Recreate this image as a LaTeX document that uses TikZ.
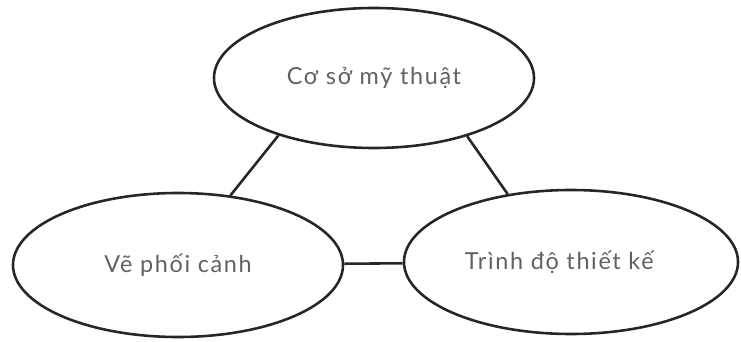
\documentclass[tikz,border=0pt]{standalone}
\usepackage{fontspec}
\setmainfont{Lato}[LetterSpace=7]
\usetikzlibrary{shapes.geometric}

\begin{document}
\begin{tikzpicture}[x=0.03cm, y=-0.03cm,
    topic/.style={ellipse, draw=black!85, line width=2.2pt, inner sep=0pt,
      font=\fontsize{20}{24}\selectfont, text=black!62},
    link/.style={draw=black!85, line width=2.2pt}]
  \useasboundingbox (0,0) rectangle (741,341);
  \node[topic, minimum width=9.6cm, minimum height=4.2cm] (art) at (374,78) {Cơ sở mỹ thuật};
  \node[topic, minimum width=9.9cm, minimum height=4.32cm] (persp) at (178,265) {Vẽ phối cảnh};
  \node[topic, minimum width=10.02cm, minimum height=4.32cm] (design) at (571,262) {Trình độ thiết kế\hspace*{0.7cm}};
  \draw[link] (art.211) -- (persp.53);
  \draw[link] (art.328) -- (design.133);
  \draw[link] (persp) -- (design);
\end{tikzpicture}
\end{document}
